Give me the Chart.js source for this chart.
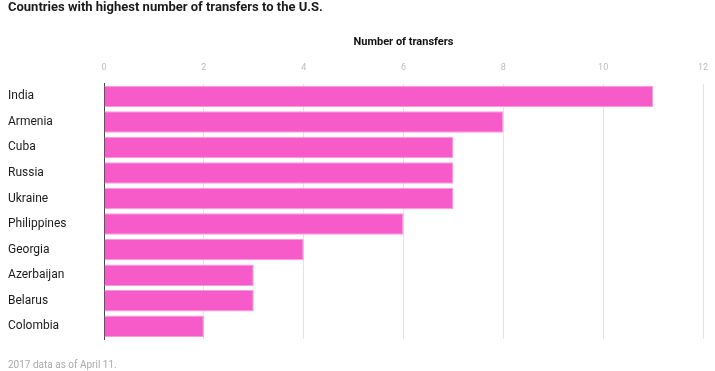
<!DOCTYPE html>
<html>
<head>
<meta charset="utf-8">
<script src="https://cdn.jsdelivr.net/npm/chart.js@4/dist/chart.umd.min.js"></script>
<style>
  html, body { margin: 0; padding: 0; background: #fff; }
  #wrap { width: 715px; height: 371px; }
</style>
</head>
<body>
<div id="wrap"><canvas id="chart"></canvas></div>
<script>
var countries = ['India', 'Armenia', 'Cuba', 'Russia', 'Ukraine', 'Philippines', 'Georgia', 'Azerbaijan', 'Belarus', 'Colombia'];
var transfers = [11, 8, 7, 7, 7, 6, 4, 3, 3, 2];
var xTicks = [0, 2, 4, 6, 8, 10, 12];

var ctx = document.getElementById('chart');
var chart = new Chart(ctx, {
  type: 'bar',
  data: {
    labels: countries,
    datasets: [{
      label: 'Number of transfers',
      data: transfers,
      backgroundColor: '#f75bca',
      borderColor: '#fa9ade',
      borderWidth: 1,
      borderSkipped: 'start',
      categoryPercentage: 0.84,
      barPercentage: 1
    }]
  },
  options: {
    indexAxis: 'y',
    responsive: true,
    maintainAspectRatio: false,
    animation: false,
    layout: { padding: { left: 8, right: 12, top: 0, bottom: 0 } },
    plugins: {
      legend: { display: false },
      tooltip: { enabled: false },
      title: {
        display: true,
        text: 'Countries with highest number of transfers to the U.S.',
        align: 'start',
        color: '#1a1a1a',
        font: { family: 'Roboto', size: 13, weight: 'bold' },
        padding: { top: 0, bottom: 20 }
      },
      subtitle: {
        display: true,
        position: 'bottom',
        text: '2017 data as of April 11.',
        align: 'start',
        color: '#aaa',
        font: { family: 'Roboto', size: 10 },
        padding: { top: 20, bottom: 0 }
      }
    },
    scales: {
      x: {
        position: 'top',
        min: 0,
        max: 12,
        afterBuildTicks: function (axis) {
          axis.ticks = xTicks.map(function (v) { return { value: v }; });
        },
        afterFit: function (axis) { axis.paddingLeft = 0; axis.paddingRight = 0; },
        ticks: { color: '#bbb', font: { family: 'Roboto', size: 9 }, padding: 10 },
        grid: { color: '#e3e3e3', drawTicks: false },
        border: { display: false },
        title: {
          display: true,
          text: 'Number of transfers',
          color: '#111',
          font: { family: 'Roboto', size: 11, weight: 'bold' },
          padding: { top: 0, bottom: 4 }
        }
      },
      y: {
        ticks: {
          crossAlign: 'far',
          color: '#1a1a1a',
          font: { family: 'Roboto', size: 12 },
          padding: 8
        },
        afterFit: function (axis) { axis.width = 96; },
        grid: { display: false, drawTicks: false },
        border: { display: true, color: '#444', width: 1 }
      }
    }
  }
});
</script>
</body>
</html>
